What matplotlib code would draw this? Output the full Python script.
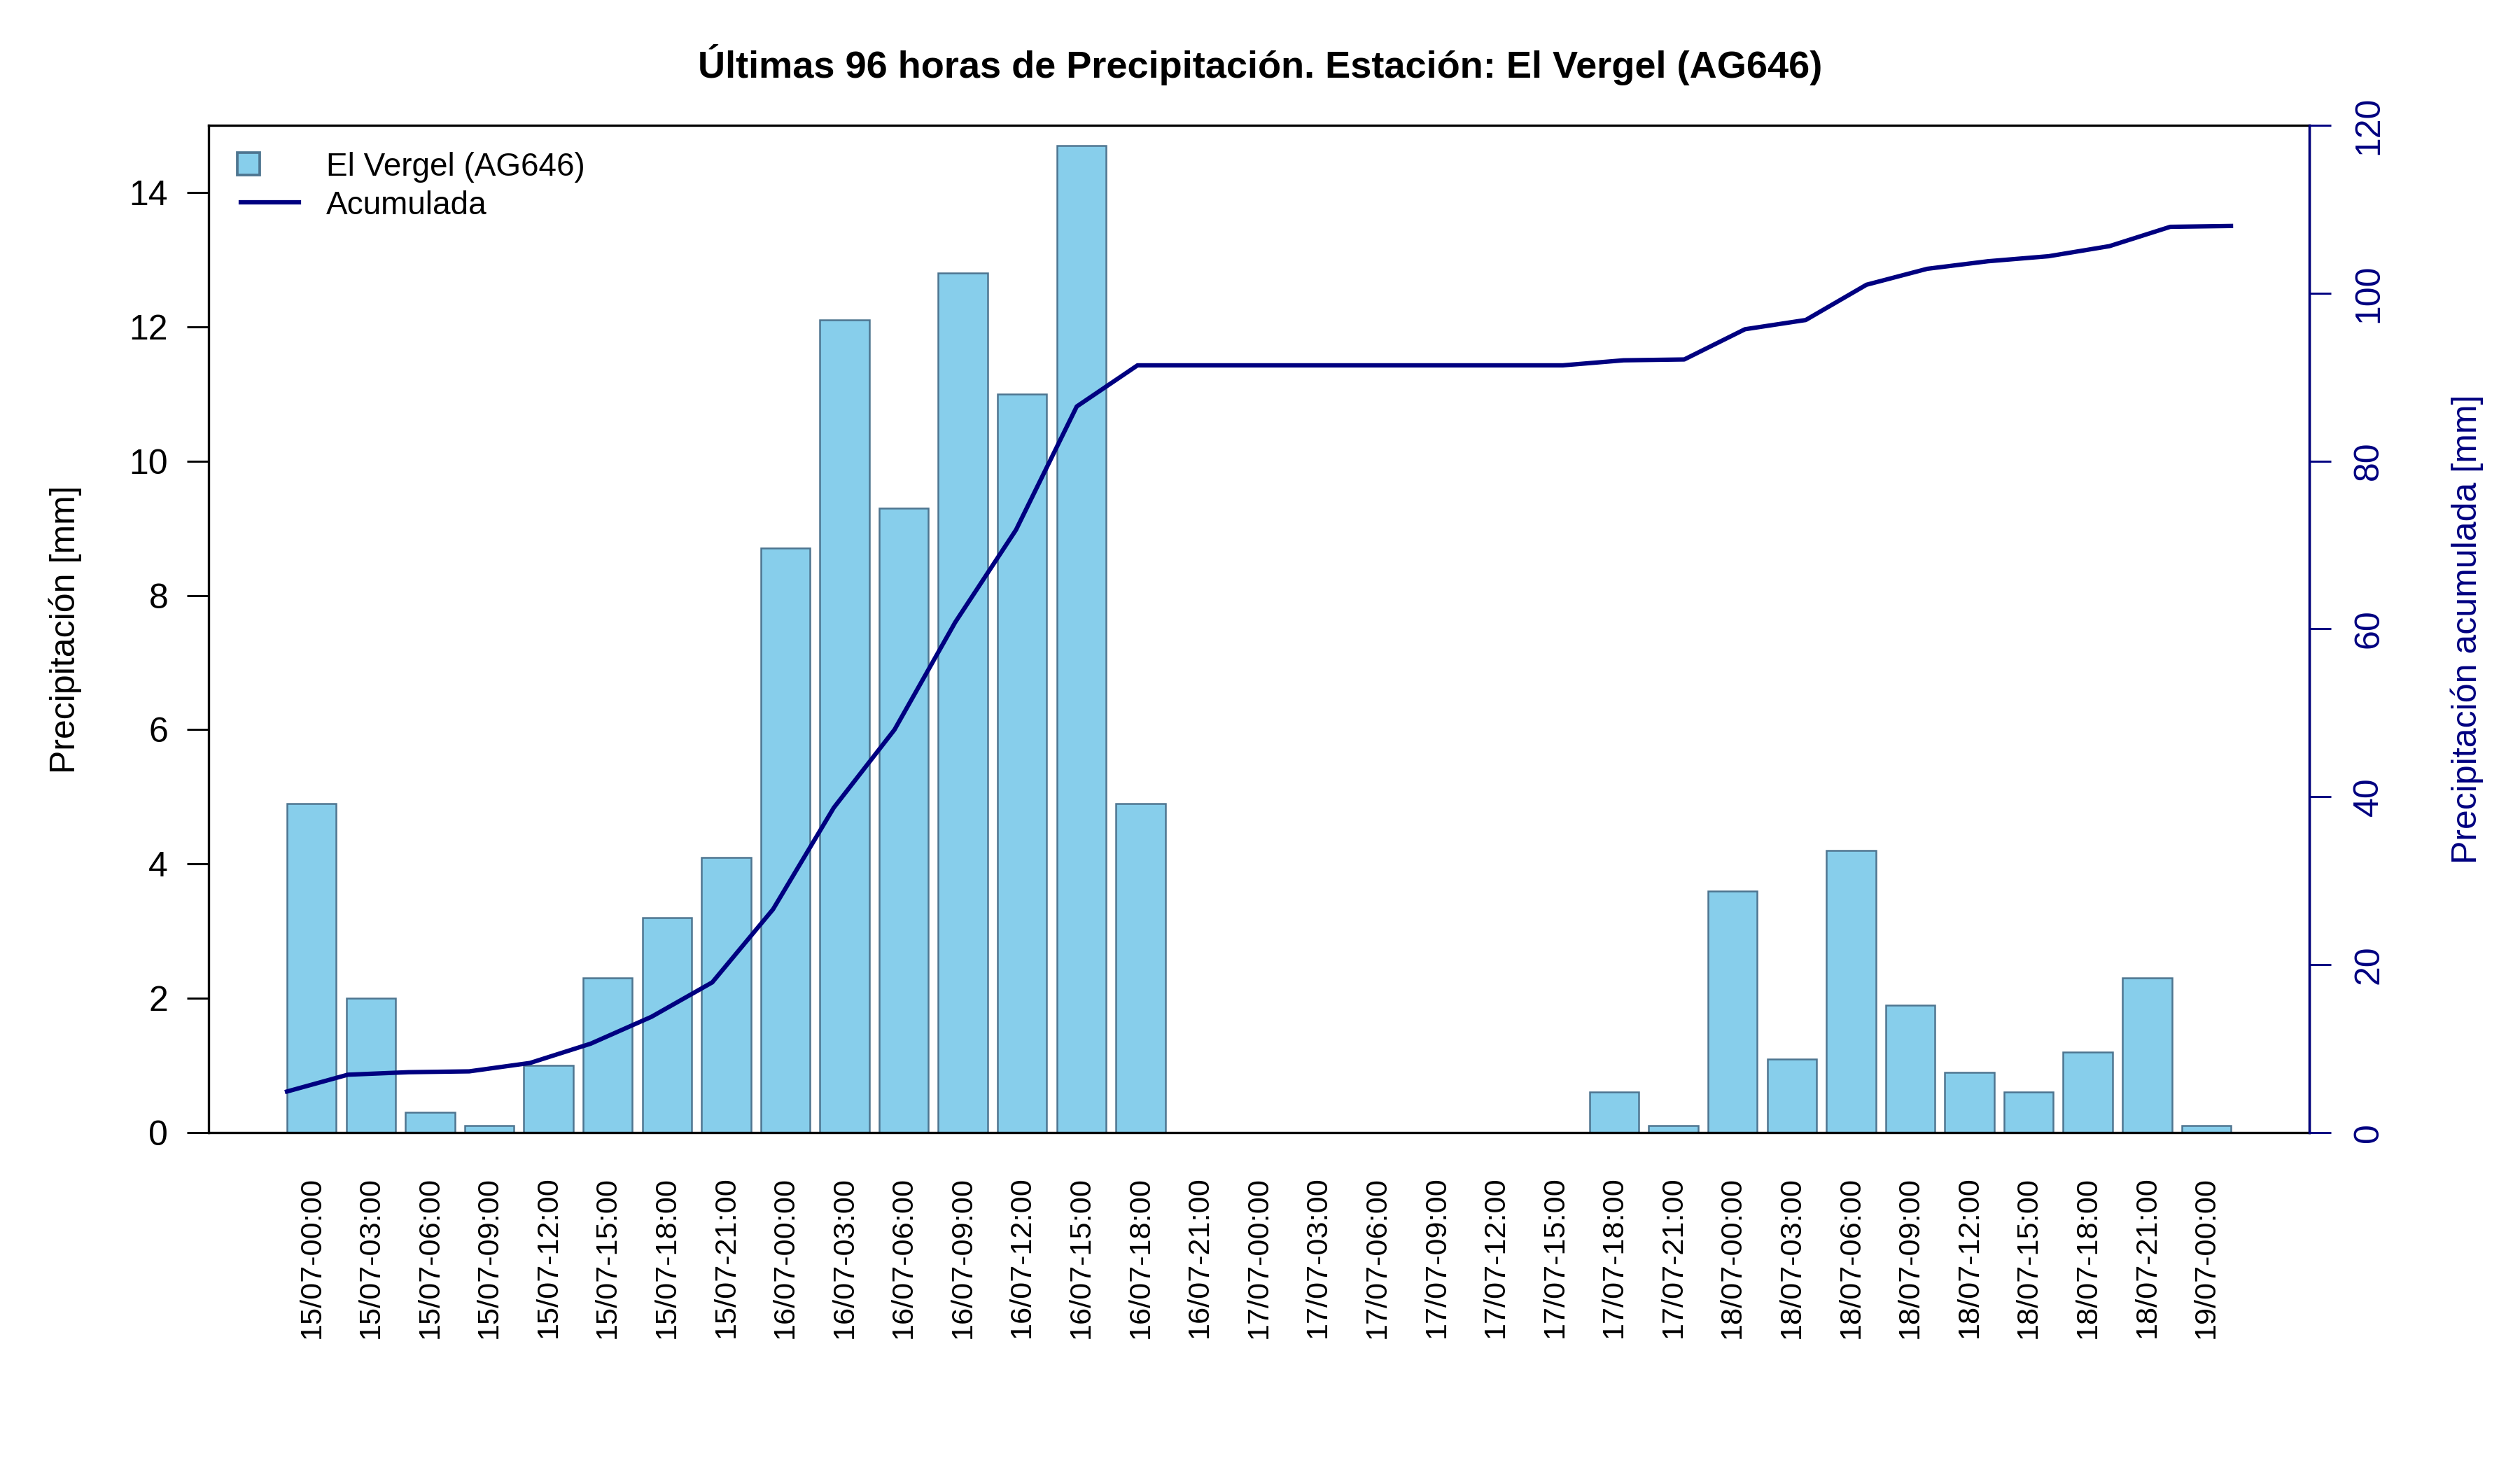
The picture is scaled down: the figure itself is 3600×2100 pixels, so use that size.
import matplotlib.pyplot as plt
import numpy as np

plt.rcParams['font.family'] = ['Liberation Sans', 'DejaVu Sans']

# datos
etiquetas = [
    "15/07-00:00", "15/07-03:00", "15/07-06:00", "15/07-09:00", "15/07-12:00",
    "15/07-15:00", "15/07-18:00", "15/07-21:00", "16/07-00:00", "16/07-03:00",
    "16/07-06:00", "16/07-09:00", "16/07-12:00", "16/07-15:00", "16/07-18:00",
    "16/07-21:00", "17/07-00:00", "17/07-03:00", "17/07-06:00", "17/07-09:00",
    "17/07-12:00", "17/07-15:00", "17/07-18:00", "17/07-21:00", "18/07-00:00",
    "18/07-03:00", "18/07-06:00", "18/07-09:00", "18/07-12:00", "18/07-15:00",
    "18/07-18:00", "18/07-21:00", "19/07-00:00",
]
precipitacion = [
    4.9, 2.0, 0.3, 0.1, 1.0, 2.3, 3.2, 4.1, 8.7, 12.1, 9.3, 12.8, 11.0, 14.7, 4.9,
    0.0, 0.0, 0.0, 0.0, 0.0, 0.0, 0.0, 0.6, 0.1, 3.6, 1.1, 4.2, 1.9, 0.9, 0.6,
    1.2, 2.3, 0.1,
]
acumulada = [
    4.9, 6.9, 7.2, 7.3, 8.3, 10.6, 13.8, 17.9, 26.6, 38.7, 48.0, 60.8, 71.8, 86.5, 91.4,
    91.4, 91.4, 91.4, 91.4, 91.4, 91.4, 91.4, 92.0, 92.1, 95.7, 96.8, 101.0, 102.9, 103.8, 104.4,
    105.6, 107.9, 108.0,
]

azul = '#000080'
celeste = '#87CEEB'
borde = '#4E7590'
ancho = 0.833
n = len(etiquetas)
x = np.arange(n)
# la curva acumulada va del borde izquierdo de la primera barra al derecho de la última
x_linea = np.linspace(-ancho / 2, n - 1 + ancho / 2, n)

fig = plt.figure(figsize=(12, 7), dpi=300)
ax = fig.add_axes([0.0828, 0.2295, 0.8336, 0.6853])

ax.bar(x, precipitacion, width=ancho, color=celeste, edgecolor=borde, linewidth=0.6, zorder=2)
ax.set_xlim(-1.74, n - 1 + 1.74)
ax.set_ylim(0, 15)
ax.set_yticks(range(0, 15, 2))
ax.tick_params(axis='y', labelsize=12, length=7.4, width=0.7, pad=6.5, direction='out')
ax.set_xticks(x)
ax.set_xticklabels(etiquetas, rotation=90, fontsize=10.4)
ax.tick_params(axis='x', length=0, pad=15)
for s in ax.spines.values():
    s.set_linewidth(0.8)

ax2 = ax.twinx()
ax2.plot(x_linea, acumulada, color=azul, linewidth=1.5, zorder=3)
ax2.set_ylim(0, 120)
ax2.set_yticks(range(0, 121, 20))
ax2.tick_params(axis='y', labelsize=12, length=7.4, width=0.7, pad=7.5, colors=azul, labelrotation=90)
for lab in ax2.get_yticklabels():
    lab.set_va('center')
ax2.spines['right'].set_color(azul)
ax2.spines['right'].set_linewidth(0.8)
for k in ['left', 'top', 'bottom']:
    ax2.spines[k].set_visible(False)

# leyenda al estilo de R (cuadro en el extremo izquierdo)
ax2.plot([0.0191], [0.9617], transform=ax2.transAxes, linestyle='none', marker='s',
         markersize=7.7, markerfacecolor=celeste, markeredgecolor=borde, markeredgewidth=0.9,
         clip_on=False)
ax2.plot([0.0153, 0.0428], [0.9234, 0.9234], transform=ax2.transAxes, color=azul,
         linewidth=1.5, clip_on=False)
ax2.text(0.0559, 0.9617, 'El Vergel (AG646)', transform=ax2.transAxes, fontsize=11,
         ha='left', va='center_baseline')
ax2.text(0.0559, 0.9234, 'Acumulada', transform=ax2.transAxes, fontsize=11,
         ha='left', va='center_baseline')

fig.text(0.5, 0.956, 'Últimas 96 horas de Precipitación. Estación: El Vergel (AG646)',
         ha='center', va='center', fontsize=13, fontweight='bold')
fig.text(0.026, 0.572, 'Precipitación [mm]', rotation=90, ha='center', va='center', fontsize=12)
fig.text(0.979, 0.572, 'Precipitación acumulada [mm]', rotation=90, ha='center', va='center',
         fontsize=12, color=azul)

fig.savefig('out.png', dpi=300)
